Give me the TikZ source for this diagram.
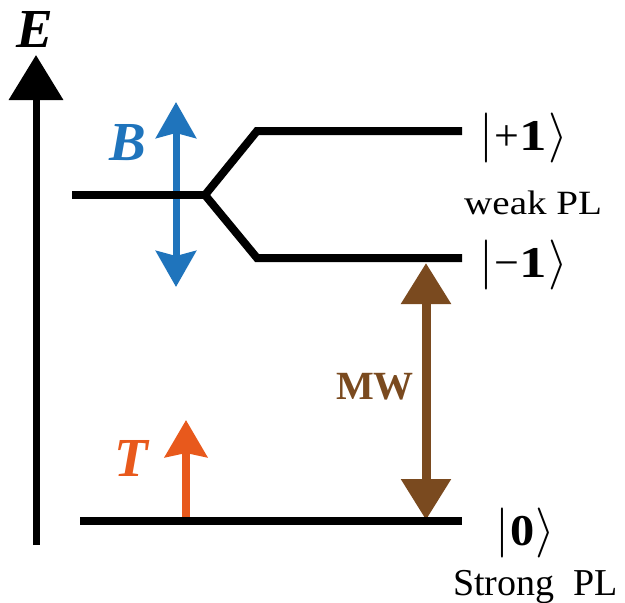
\RequirePackage{fix-cm}
\documentclass[tikz,border=0pt]{standalone}
\usepackage{fontspec}
\setmainfont{Liberation Serif}
\usetikzlibrary{arrows.meta}
\definecolor{bblue}{HTML}{1F74BC}
\definecolor{borange}{HTML}{E8591C}
\definecolor{bbrown}{HTML}{7A4A1F}
\newcommand{\ketbar}{{\fontsize{50}{52}\selectfont$|$}}
\newcommand{\ketend}{{\fontsize{50}{52}\selectfont$\rangle$}}
\begin{document}
\begin{tikzpicture}[x=1pt,y=-1pt,
  levelline/.style={line width=8pt,line join=miter},
  axisline/.style={line width=7pt,-{Triangle[width=53pt,length=45pt]}},
  bfield/.style={bblue,line width=7pt,{Stealth[width=40pt,length=36pt,inset=5pt]}-{Stealth[width=40pt,length=36pt,inset=5pt]}},
  tfield/.style={borange,line width=8pt,-{Stealth[width=42pt,length=37pt,inset=4pt]}},
  mwarrow/.style={bbrown,line width=9pt,{Triangle[width=48pt,length=41pt]}-{Triangle[width=48pt,length=41pt]}},
  biglabel/.style={inner sep=0pt,font=\fontsize{55}{60}\selectfont\bfseries\itshape},
  ketlabel/.style={inner sep=0pt,anchor=base west,font=\fontsize{44}{48}\selectfont},
  pllabel/.style={inner sep=0pt,anchor=base west}]
\useasboundingbox (0,0) rectangle (625,603);
% coordinates
\coordinate (axb) at (36,545);
\coordinate (axt) at (36,55);
\coordinate (l0a) at (72,195);
\coordinate (split) at (205,195);
\coordinate (upk) at (257,131);
\coordinate (upe) at (462,131);
\coordinate (lok) at (257,258);
\coordinate (loe) at (462,258);
\coordinate (gsa) at (80,521);
\coordinate (gse) at (462,521);
\coordinate (bbot) at (176,287);
\coordinate (btop) at (176,102);
\coordinate (tbot) at (186,522);
\coordinate (ttop) at (186,420);
\coordinate (mwt) at (426,263);
\coordinate (mwb) at (426,520);
% arrows under levels
\draw[bfield] (bbot) -- (btop);
\draw[tfield] (tbot) -- (ttop);
\draw[mwarrow] (mwt) -- (mwb);
% energy axis
\draw[axisline] (axb) -- (axt);
% levels
\draw[levelline] (l0a) -- (split);
\draw[levelline] (upe) -- (upk) -- (split) -- (lok) -- (loe);
\draw[levelline] (gsa) -- (gse);
% labels
\node[biglabel] (elab) at (35,29) {E};
\node[biglabel,bblue] (blab) at (128,143) {B};
\node[biglabel,borange] (tlab) at (131,458) {T};
\node[inner sep=0pt,bbrown,font=\fontsize{40}{44}\selectfont\bfseries] (mwlab) at (375,387) {MW};
\node[ketlabel] (kp) at (479,150) {\ketbar\kern1pt+\kern1pt\scalebox{1.25}[1]{\textbf{1}}\kern1pt\ketend};
\node[ketlabel] (km) at (479,277) {\ketbar\kern1pt−\kern1pt\scalebox{1.25}[1]{\textbf{1}}\kern1pt\ketend};
\node[ketlabel] (k0) at (495,545) {\ketbar\kern1pt\scalebox{1.1}[1]{\textbf{0}}\kern1pt\ketend};
\node[pllabel,font=\fontsize{34}{38}\selectfont] (wpl) at (464,214) {\scalebox{1.15}[1]{weak PL}};
\node[pllabel,font=\fontsize{38}{42}\selectfont] (spl) at (453,595) {Strong\ \ PL};
\end{tikzpicture}
\end{document}
